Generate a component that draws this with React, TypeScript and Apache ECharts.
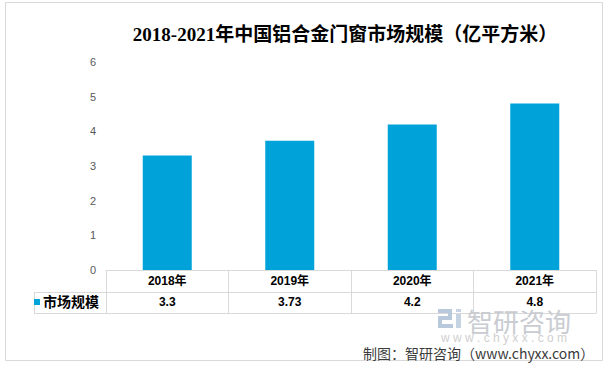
import React, { useEffect, useRef } from "react";
import * as echarts from "echarts";

const titleText = "2018-2021年中国铝合金门窗市场规模（亿平方米）";
const years = ["2018年", "2019年", "2020年", "2021年"];
const seriesName = "市场规模";
const values = [3.3, 3.73, 4.2, 4.8];
const sourceText = "制图：智研咨询（www.chyxx.com）";
const watermarkName = "智研咨询";
const watermarkUrl = "w w w . c h y x x . c o m";

const BAR = "#00A2DA";
const LINE = "#d9d9d9";
const SANS = "'Liberation Sans', 'Noto Sans CJK SC', sans-serif";

export default function App() {
  const ref = useRef<HTMLDivElement>(null);
  useEffect(() => {
    if (!ref.current) return;
    const chart = echarts.init(ref.current, undefined, { renderer: "svg" });
    const logoColor = "#b9c9dc";
    chart.setOption({
      animation: false,
      backgroundColor: "#ffffff",
      title: {
        text: titleText,
        left: 340,
        textAlign: "center",
        top: 20,
        textStyle: {
          fontFamily: "'Liberation Serif', 'Noto Sans CJK SC', serif",
          fontSize: 19,
          fontWeight: "bold",
          color: "#000",
        },
      },
      legend: {
        data: [{ name: seriesName, icon: "rect" }],
        left: 34,
        top: 295,
        itemWidth: 6,
        itemHeight: 6,
        itemGap: 0,
        padding: 0,
        textStyle: { fontSize: 14, fontWeight: "bold", color: "#000", fontFamily: SANS, padding: [0, 0, 0, -2] },
      },
      grid: { left: 106, right: 15, top: 62, bottom: 95 },
      xAxis: [
        {
          type: "category",
          data: years,
          position: "bottom",
          axisLine: { show: true, lineStyle: { color: LINE } },
          axisTick: { show: true, length: 43, lineStyle: { color: LINE } },
          axisLabel: { margin: 5, fontSize: 12, fontWeight: "bold", color: "#000", fontFamily: SANS },
        },
        {
          type: "category",
          data: values.map((v) => String(v)),
          position: "bottom",
          offset: 22,
          axisLine: { show: true, lineStyle: { color: LINE } },
          axisTick: { show: false },
          axisLabel: { margin: 4, fontSize: 12, fontWeight: "bold", color: "#000", fontFamily: SANS },
        },
        {
          type: "category",
          data: years,
          position: "bottom",
          offset: 43,
          axisLine: { show: true, lineStyle: { color: LINE } },
          axisTick: { show: false },
          axisLabel: { show: false },
        },
      ],
      yAxis: {
        type: "value",
        min: 0,
        max: 6,
        interval: 1,
        axisLine: { show: false },
        axisTick: { show: false },
        splitLine: { show: false },
        axisLabel: { margin: 10, fontSize: 11, color: "#595959", fontFamily: SANS },
      },
      series: [
        {
          name: seriesName,
          type: "bar",
          data: values,
          barWidth: 49,
          itemStyle: { color: BAR },
        },
      ],
      graphic: [
        { type: "rect", shape: { x: 5.5, y: 2.5, width: 597, height: 358 }, style: { fill: "none", stroke: "#d9d9d9", lineWidth: 1 }, z: 0, silent: true },
        { type: "line", shape: { x1: 34, y1: 292.5, x2: 106, y2: 292.5 }, style: { stroke: LINE, lineWidth: 1 } },
        { type: "line", shape: { x1: 34, y1: 313.5, x2: 106, y2: 313.5 }, style: { stroke: LINE, lineWidth: 1 } },
        { type: "line", shape: { x1: 34.5, y1: 292, x2: 34.5, y2: 314 }, style: { stroke: LINE, lineWidth: 1 } },
        // watermark logo
        { type: "rect", shape: { x: 438, y: 309, width: 14, height: 4 }, style: { fill: logoColor }, z: 1 },
        { type: "rect", shape: { x: 448, y: 309, width: 4, height: 10 }, style: { fill: logoColor }, z: 1 },
        { type: "rect", shape: { x: 438, y: 316, width: 14, height: 4 }, style: { fill: logoColor }, z: 1 },
        { type: "rect", shape: { x: 438, y: 316, width: 4, height: 11 }, style: { fill: logoColor }, z: 1 },
        { type: "rect", shape: { x: 438, y: 324, width: 15, height: 4 }, style: { fill: logoColor }, z: 1 },
        { type: "rect", shape: { x: 456, y: 314, width: 5, height: 14 }, style: { fill: "#c5d3e3" }, z: 1 },
        { type: "rect", shape: { x: 456, y: 309, width: 5, height: 3 }, style: { fill: "#c5d3e3" }, z: 1 },
        {
          type: "text",
          x: 467,
          y: 320,
          z: 1,
          style: { text: watermarkName, font: "normal 26px 'Noto Sans CJK SC', sans-serif", fill: "#c9ccd1", textVerticalAlign: "middle" },
        },
        {
          type: "text",
          x: 441,
          y: 338,
          z: 1,
          style: { text: watermarkUrl, font: "normal 12px " + SANS, fill: "#cfcfcf", textVerticalAlign: "middle" },
        },
        {
          type: "text",
          x: 363,
          y: 353,
          z: 2,
          style: { text: sourceText, font: "normal 14px 'Noto Sans CJK SC', sans-serif", fill: "#3a3a3a", textVerticalAlign: "middle" },
        },
      ],
    });
    return () => chart.dispose();
  }, []);
  return (
    <div
      ref={ref}
      style={{ position: "fixed", left: 0, top: 0, width: 611, height: 365, background: "#fff" }}
    />
  );
}
